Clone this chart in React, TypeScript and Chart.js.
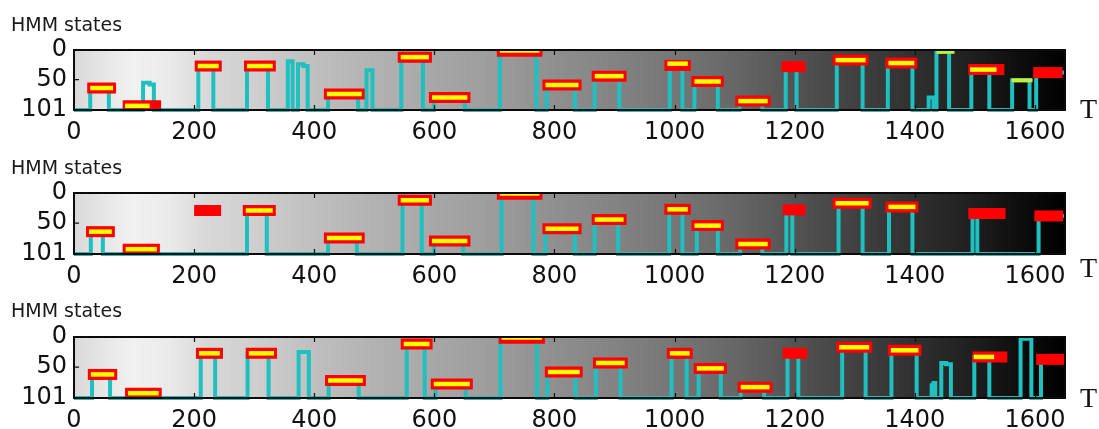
import { useEffect, useRef } from 'react';
import { Chart, registerables } from 'chart.js';

Chart.register(...registerables);

// ---------- axes ----------
const xTicks = [0, 200, 400, 600, 800, 1000, 1200, 1400, 1600];
const yTicks = [0, 50, 101];
const xMax = 1650;
const yMax = 101;
const titleText = 'HMM states';
const axisName = 'T';

// ---------- panel 1 ----------
// red segments: [start, end, state level]
const p1Red: [number, number, number][] = [
  [22, 70, 64], [81, 145, 94], [201, 246, 27], [283, 336, 27], [416, 484, 74],
  [539, 596, 12], [591, 660, 80], [704, 780, 2], [780, 845, 59], [862, 920, 44],
  [983, 1027, 26], [1028, 1082, 53], [1101, 1160, 86], [1178, 1218, 28],
  [1263, 1323, 17], [1351, 1404, 22], [1489, 1549, 33], [1597, 1646, 38],
];
const p1Yellow: [number, number, number][] = [
  [27, 65, 64], [85, 126, 94], [206, 241, 27], [288, 331, 27], [421, 479, 74],
  [544, 591, 12], [596, 655, 80], [709, 775, 1], [785, 840, 59], [867, 915, 44],
  [988, 1022, 23], [1033, 1077, 53], [1106, 1155, 86], [1268, 1318, 17],
  [1356, 1399, 22], [1492, 1536, 33],
];
const p1Green: [number, number, number][] = [
  [1436, 1466, 3], [1561, 1596, 51],
];
// state changes: [time, new state]
const p1States: [number, number][] = [
  [0, 101], [27, 64], [58, 101], [115, 55], [126, 58], [133, 101], [207, 27], [232, 101],
  [288, 27], [323, 101], [356, 19], [364, 101], [373, 24], [382, 27], [389, 101],
  [423, 74], [473, 101], [487, 34], [497, 101], [545, 12], [581, 101], [599, 80], [651, 101],
  [709, 2], [770, 101], [787, 59], [834, 101], [867, 44], [908, 101], [992, 26], [1013, 101],
  [1033, 53], [1072, 101], [1108, 86], [1146, 101], [1185, 28], [1203, 101], [1270, 17],
  [1313, 101], [1355, 22], [1396, 101], [1423, 80], [1431, 101], [1436, 3], [1457, 101],
  [1494, 33], [1524, 101], [1562, 51], [1591, 101], [1602, 38], [1660, 38],
];

// ---------- panel 2 ----------
const p2Red: [number, number, number][] = [
  [20, 68, 64], [81, 143, 93], [200, 245, 29], [281, 336, 29], [416, 484, 74.5],
  [539, 596, 12], [591, 660, 79.5], [704, 780, 2], [780, 845, 59], [862, 920, 44],
  [983, 1027, 27], [1028, 1082, 54], [1101, 1160, 84.5], [1180, 1218, 28],
  [1263, 1328, 17], [1351, 1406, 23], [1489, 1551, 34], [1599, 1647, 38],
];
const p2Yellow: [number, number, number][] = [
  [25, 63, 64], [86, 138, 93], [286, 331, 29], [421, 479, 74.5], [544, 591, 12],
  [596, 655, 79.5], [709, 775, 1], [785, 840, 59], [867, 915, 44], [988, 1022, 27],
  [1033, 1077, 54], [1106, 1155, 84.5], [1268, 1323, 17], [1356, 1401, 23],
];
const p2Green: [number, number, number][] = [];
const p2States: [number, number][] = [
  [0, 101], [28, 64], [48, 101], [288, 29], [321, 101], [423, 74], [471, 101],
  [547, 12], [579, 101], [599, 80], [648, 101], [712, 2], [765, 101], [785, 59], [834, 101],
  [867, 44], [906, 101], [991, 27], [1013, 101], [1037, 54], [1072, 101], [1109, 85],
  [1146, 101], [1186, 28], [1196, 101], [1273, 17], [1313, 101], [1357, 23], [1396, 101],
  [1496, 34], [1504, 101], [1606, 38], [1660, 38],
];

// ---------- panel 3 ----------
const p3Red: [number, number, number][] = [
  [23, 72, 62], [85, 146, 93], [203, 248, 27], [286, 338, 27], [418, 486, 72],
  [544, 597, 11.6], [594, 664, 78], [707, 784, 2], [784, 847, 58], [864, 922, 43],
  [987, 1030, 27], [1032, 1087, 52], [1105, 1163, 83], [1180, 1221, 27],
  [1269, 1329, 17], [1355, 1411, 22], [1496, 1554, 33], [1602, 1652, 37],
];
const p3Yellow: [number, number, number][] = [
  [28, 67, 62], [90, 141, 93], [208, 243, 27], [291, 333, 27], [423, 481, 72],
  [549, 592, 11.6], [599, 659, 78], [712, 779, 1], [789, 842, 58], [869, 917, 43],
  [992, 1025, 27], [1037, 1082, 52], [1110, 1158, 83], [1274, 1324, 17],
  [1360, 1406, 22], [1498, 1532, 33],
];
const p3Green: [number, number, number][] = [];
const p3States: [number, number][] = [
  [0, 101], [30, 62], [60, 101], [211, 27], [235, 101], [289, 27], [324, 101],
  [374, 25], [391, 101], [424, 72], [474, 101], [554, 12], [584, 101], [602, 78], [652, 101],
  [710, 2], [771, 101], [788, 58], [835, 101], [869, 43], [910, 101], [995, 27], [1020, 101],
  [1040, 52], [1077, 101], [1110, 83], [1149, 101], [1188, 27], [1206, 101], [1279, 17],
  [1318, 101], [1361, 22], [1403, 101], [1428, 80], [1431, 76], [1434, 101], [1444, 43],
  [1452, 45], [1460, 101], [1499, 33], [1524, 101], [1576, 3], [1594, 101], [1610, 37],
  [1660, 37],
];

// ---------- background shading (position along T, grey) ----------
const shadeStops: [number, string][] = [
  [0, '#d8d8d8'], [40, '#e4e4e4'], [100, '#f1f1f1'], [160, '#eaeaea'], [220, '#d8d8d8'],
  [300, '#cfcfcf'], [400, '#bfbfbf'], [500, '#b2b2b2'], [600, '#a7a7a7'], [700, '#9c9c9c'],
  [800, '#8f8f8f'], [900, '#838383'], [1000, '#767676'], [1100, '#676767'], [1200, '#535353'],
  [1300, '#414141'], [1400, '#303030'], [1500, '#1e1e1e'], [1580, '#0c0c0c'], [1650, '#000000'],
];

type Seg = [number, number, number];
interface PanelCfg {
  top: number;
  height: number;
  plotBottom: number;
  titleBottomPad: number;
  tBaseline: number;
  red: Seg[];
  yellow: Seg[];
  green: Seg[];
  states: [number, number][];
}

const panels: PanelCfg[] = [
  { top: 0, height: 150, plotBottom: 110, titleBottomPad: 12.2, tBaseline: 118, red: p1Red, yellow: p1Yellow, green: p1Green, states: p1States },
  { top: 143, height: 150, plotBottom: 111, titleBottomPad: 12.2, tBaseline: 134, red: p2Red, yellow: p2Yellow, green: p2Green, states: p2States },
  { top: 286, height: 143, plotBottom: 112, titleBottomPad: 13.2, tBaseline: 121, red: p3Red, yellow: p3Yellow, green: p3Green, states: p3States },
];

const CYAN = '#1fc0c0';
const RED = '#ff0000';
const YELLOW = '#ffff00';
const GREEN = '#c4ee3a';
const TICK_FONT = { family: 'DejaVu Sans', size: 24 };

function segDataset(s: Seg, color: string, width: number, order: number) {
  return {
    data: [{ x: s[0], y: s[2] }, { x: s[1], y: s[2] }],
    borderColor: color,
    backgroundColor: color,
    borderWidth: width,
    borderCapStyle: 'butt',
    pointRadius: 0,
    fill: false,
    order,
    clip: 0,
  };
}

function Panel({ cfg }: { cfg: PanelCfg }) {
  const ref = useRef<HTMLCanvasElement | null>(null);
  useEffect(() => {
    if (!ref.current) return;
    const decor = {
      id: 'decor',
      beforeDatasetsDraw(chart: any) {
        const { ctx, chartArea: a, scales } = chart;
        const x = scales.x;
        const g = ctx.createLinearGradient(a.left, 0, a.right, 0);
        shadeStops.forEach(([v, c]) => {
          const f = (x.getPixelForValue(v) - a.left) / (a.right - a.left);
          g.addColorStop(Math.min(1, Math.max(0, f)), c);
        });
        ctx.save();
        ctx.fillStyle = g;
        ctx.fillRect(a.left, a.top, a.right - a.left, a.bottom - a.top);
        ctx.restore();
      },
      afterDatasetsDraw(chart: any) {
        const { ctx, chartArea: a, scales } = chart;
        ctx.save();
        ctx.strokeStyle = '#111';
        ctx.lineWidth = 1.2;
        xTicks.forEach((v) => {
          if (v === 0) return;
          const px = Math.round(scales.x.getPixelForValue(v)) + 0.5;
          ctx.beginPath();
          ctx.moveTo(px, a.top);
          ctx.lineTo(px, a.top + 5);
          ctx.moveTo(px, a.bottom);
          ctx.lineTo(px, a.bottom - 5);
          ctx.stroke();
        });
        const py = scales.y.getPixelForValue(50);
        ctx.beginPath();
        ctx.moveTo(a.left, py);
        ctx.lineTo(a.left + 5, py);
        ctx.moveTo(a.right, py);
        ctx.lineTo(a.right - 5, py);
        ctx.stroke();
        ctx.lineWidth = 2;
        ctx.strokeStyle = '#0a0a0a';
        ctx.strokeRect(a.left, a.top, a.right - a.left, a.bottom - a.top);
        ctx.fillStyle = '#111';
        ctx.font = '28px "Liberation Serif", "DejaVu Serif", serif';
        ctx.textAlign = 'left';
        ctx.textBaseline = 'alphabetic';
        ctx.fillText(axisName, 1080, cfg.tBaseline);
        ctx.restore();
      },
    };

    const datasets: any[] = [];
    datasets.push({
      data: cfg.states.map(([x, y]) => ({ x, y })),
      borderColor: CYAN,
      borderWidth: 4,
      stepped: true,
      pointRadius: 0,
      fill: false,
      order: 4,
      clip: { left: 0, right: 0, top: 0, bottom: 2 },
    });
    cfg.red.forEach((s) => datasets.push(segDataset(s, RED, 11, 3)));
    cfg.yellow.forEach((s) => datasets.push(segDataset(s, YELLOW, 4.5, 2)));
    cfg.green.forEach((s) => datasets.push(segDataset(s, GREEN, 4, 1)));

    const xAxisH = cfg.height - cfg.plotBottom;
    const chart = new Chart(ref.current, {
      type: 'line',
      data: { datasets },
      options: {
        animation: false,
        responsive: false,
        maintainAspectRatio: false,
        devicePixelRatio: 1,
        events: [],
        layout: { padding: { left: 11, right: 34, top: 0, bottom: 0 } },
        plugins: {
          legend: { display: false },
          tooltip: { enabled: false },
          title: {
            display: true,
            text: titleText,
            align: 'start',
            color: '#1a1a1a',
            font: { family: 'DejaVu Sans', size: 19, weight: 'normal' },
            padding: { top: 15, bottom: cfg.titleBottomPad },
          },
        },
        scales: {
          x: {
            type: 'linear',
            min: 0,
            max: xMax,
            afterBuildTicks: (s: any) => { s.ticks = xTicks.map((v) => ({ value: v })); },
            afterFit: (s: any) => { s.height = xAxisH; },
            ticks: { font: TICK_FONT, color: '#111', padding: 8, maxRotation: 0, autoSkip: false, callback: (v: any) => String(v) },
            grid: { display: false, drawTicks: false },
            border: { display: false },
          },
          y: {
            type: 'linear',
            reverse: true,
            min: 0,
            max: yMax,
            afterBuildTicks: (s: any) => { s.ticks = yTicks.map((v) => ({ value: v })); },
            afterFit: (s: any) => { s.width = 63; },
            ticks: { font: TICK_FONT, color: '#111', padding: 7, autoSkip: false, callback: (v: any) => String(v) },
            grid: { display: false, drawTicks: false },
            border: { display: false },
          },
        },
      } as any,
      plugins: [decor],
    });
    return () => chart.destroy();
  }, [cfg]);

  return (
    <canvas
      ref={ref}
      width={1099}
      height={cfg.height}
      style={{ position: 'absolute', left: 0, top: cfg.top, width: 1099, height: cfg.height, display: 'block' }}
    />
  );
}

export default function App() {
  return (
    <div style={{ position: 'absolute', left: 0, top: 0, width: 1099, height: 429, overflow: 'hidden', background: '#ffffff' }}>
      {panels.map((p, i) => (
        <Panel key={i} cfg={p} />
      ))}
    </div>
  );
}
